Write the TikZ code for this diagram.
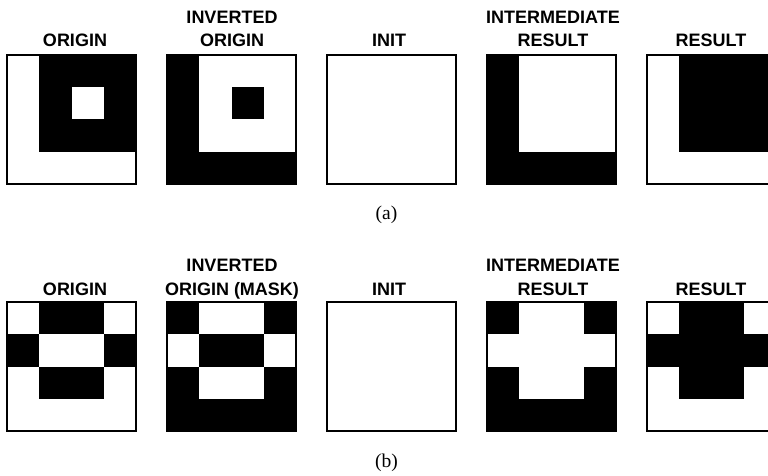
\documentclass[tikz,border=0pt]{standalone}
\usepackage{fontspec}
\setmainfont{Liberation Serif}
\newfontfamily\labelfont{Liberation Sans}
\begin{document}
\begin{tikzpicture}[x=1pt,y=-1pt,
  frame/.style={draw=black,line width=2pt},
  cell/.style={fill=black},
  title/.style={font=\labelfont\bfseries\fontsize{18}{23.5}\selectfont,align=center,anchor=base,inner sep=0pt},
  caption/.style={font=\fontsize{19.5}{21}\selectfont,anchor=base,inner sep=0pt}]
\def\cs{32.25}
% draw a 4x4 panel: #1 left, #2 top, #3 list of black cells row/col
\newcommand\gridpanel[3]{%
  \foreach \r/\c in {#3} {\fill[cell] ({#1+\c*\cs},{#2+\r*\cs}) rectangle ++(\cs,\cs);}
  \draw[frame] (#1,#2) rectangle ++(129,129);}
\newcommand\emptypanel[2]{\draw[frame] (#1,#2) rectangle ++(129,129);}
\useasboundingbox (0,0) rectangle (768,476);
\clip (0,0) rectangle (768,476);

% ---- row (a) ----
\gridpanel{7}{55}{0/1,0/2,0/3,1/1,1/3,2/1,2/2,2/3}
\gridpanel{167}{55}{0/0,1/0,2/0,3/0,3/1,3/2,3/3,1/2}
\emptypanel{327}{55}
\gridpanel{487}{55}{0/0,1/0,2/0,3/0,3/1,3/2,3/3}
\gridpanel{647}{55}{0/1,0/2,0/3,1/1,1/2,1/3,2/1,2/2,2/3}

\node[title] (ta1) at (75,47) {ORIGIN};
\node[title] (ta2) at (232,47) {INVERTED\\ORIGIN};
\node[title] (ta3) at (389,47) {INIT};
\node[title] (ta4) at (553,47) {INTERMEDIATE\\RESULT};
\node[title] (ta5) at (711,47) {RESULT};
\node[caption] (capa) at (386.5,219) {(a)};

% ---- row (b) ----
\gridpanel{7}{302}{0/1,0/2,1/0,1/3,2/1,2/2}
\gridpanel{167}{302}{0/0,0/3,1/1,1/2,2/0,2/3,3/0,3/1,3/2,3/3}
\emptypanel{327}{302}
\gridpanel{487}{302}{0/0,0/3,2/0,2/3,3/0,3/1,3/2,3/3}
\gridpanel{647}{302}{0/1,0/2,1/0,1/1,1/2,1/3,2/1,2/2}

\node[title] (tb1) at (75,295) {ORIGIN};
\node[title] (tb2) at (232,295) {INVERTED\\ORIGIN (MASK)};
\node[title] (tb3) at (389,295) {INIT};
\node[title] (tb4) at (553,295) {INTERMEDIATE\\RESULT};
\node[title] (tb5) at (711,295) {RESULT};
\node[caption] (capb) at (386.5,467) {(b)};
\end{tikzpicture}
\end{document}
